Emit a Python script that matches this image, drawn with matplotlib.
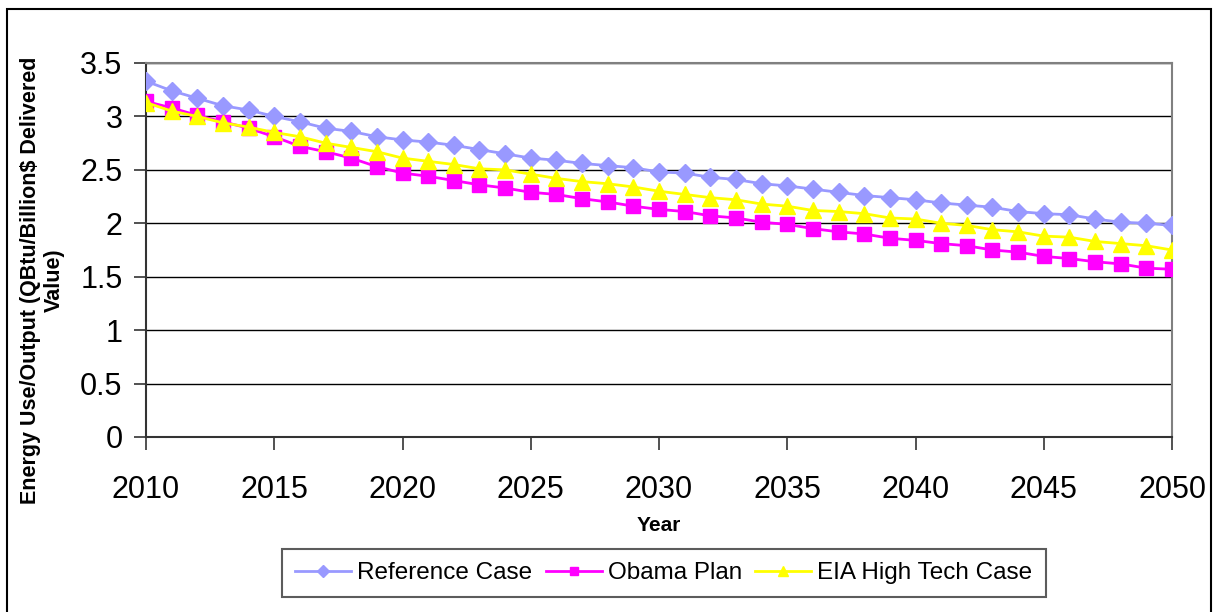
import matplotlib.pyplot as plt
from matplotlib.patches import Rectangle

plt.rcParams['font.family'] = ['Liberation Sans', 'DejaVu Sans']

years = list(range(2010, 2051))

reference_case = [3.33, 3.24, 3.17, 3.10, 3.06, 3.00, 2.95, 2.89, 2.86, 2.81,
                  2.78, 2.76, 2.73, 2.69, 2.65, 2.61, 2.59, 2.56, 2.54, 2.52,
                  2.48, 2.47, 2.43, 2.41, 2.37, 2.35, 2.32, 2.29, 2.26, 2.24,
                  2.22, 2.19, 2.17, 2.15, 2.11, 2.09, 2.08, 2.04, 2.01, 2.00,
                  1.98]
obama_plan = [3.14, 3.08, 3.01, 2.95, 2.89, 2.81, 2.72, 2.67, 2.61, 2.53,
              2.47, 2.44, 2.40, 2.36, 2.33, 2.29, 2.27, 2.23, 2.20, 2.16,
              2.13, 2.11, 2.07, 2.05, 2.01, 1.99, 1.95, 1.92, 1.90, 1.86,
              1.84, 1.81, 1.79, 1.75, 1.73, 1.69, 1.67, 1.64, 1.62, 1.58,
              1.57]
high_tech = [3.13, 3.05, 3.00, 2.94, 2.90, 2.85, 2.81, 2.75, 2.71, 2.67,
             2.61, 2.58, 2.55, 2.51, 2.50, 2.46, 2.42, 2.39, 2.37, 2.34,
             2.30, 2.27, 2.24, 2.22, 2.18, 2.16, 2.12, 2.11, 2.09, 2.05,
             2.04, 2.00, 1.98, 1.94, 1.92, 1.88, 1.87, 1.83, 1.81, 1.79,
             1.75]

y_ticks = [0, 0.5, 1, 1.5, 2, 2.5, 3, 3.5]
y_tick_labels = ['0', '0.5', '1', '1.5', '2', '2.5', '3', '3.5']
x_ticks = list(range(2010, 2051, 5))

W, H = 1213, 612
fig = plt.figure(figsize=(W / 100, H / 100), dpi=100)
ax = fig.add_axes([146 / W, 1 - 437 / H, (1172 - 146) / W, (437 - 63) / H])

# outer chart border
fig.add_artist(Rectangle((7 / W, -0.05), (1211 - 7) / W, 1.05 - 9 / H,
                         transform=fig.transFigure, fill=False,
                         edgecolor='black', linewidth=1.5))

ax.plot(years, reference_case, color='#9999ff', marker='D', markersize=9,
        linewidth=2, label='Reference Case', zorder=3)
ax.plot(years, obama_plan, color='#ff00ff', marker='s', markersize=9.5,
        linewidth=2, label='Obama Plan', zorder=4)
ax.plot(years, high_tech, color='#ffff00', marker='^', markersize=11,
        linewidth=2, label='EIA High Tech Case', zorder=5)

ax.set_xlim(2010, 2050)
ax.set_ylim(0, 3.5)
ax.set_yticks(y_ticks)
ax.set_yticklabels(y_tick_labels)
ax.set_xticks(x_ticks)
ax.yaxis.grid(True, color='black', linewidth=1)
ax.set_axisbelow(True)

for side in ['top', 'right']:
    ax.spines[side].set_color('#808080')
    ax.spines[side].set_linewidth(1.5)
for side in ['left', 'bottom']:
    ax.spines[side].set_color('#333333')
    ax.spines[side].set_linewidth(1.5)

ax.tick_params(axis='both', direction='out', length=9, width=1.2,
               color='#333333', labelsize=22, pad=8)
ax.tick_params(axis='x', pad=18)

ax.set_xlabel('Year', fontsize=15, fontweight='bold', labelpad=8)
ax.set_ylabel('Energy Use/Output (QBtu/Billion$ Delivered\nValue)',
              fontsize=15.5, fontweight='bold')
ax.yaxis.set_label_coords(-0.079, 0.42)

leg = fig.legend(loc='center', bbox_to_anchor=(664 / W, 1 - 573 / H),
                 ncol=3, fontsize=17.5, frameon=True, fancybox=False,
                 handlelength=2.3, handletextpad=0.25, columnspacing=0.55,
                 borderpad=0.55, borderaxespad=0, markerscale=0.65)
leg.get_frame().set_edgecolor('#333333')
leg.get_frame().set_linewidth(1.5)

fig.savefig('out.png', dpi=100)
